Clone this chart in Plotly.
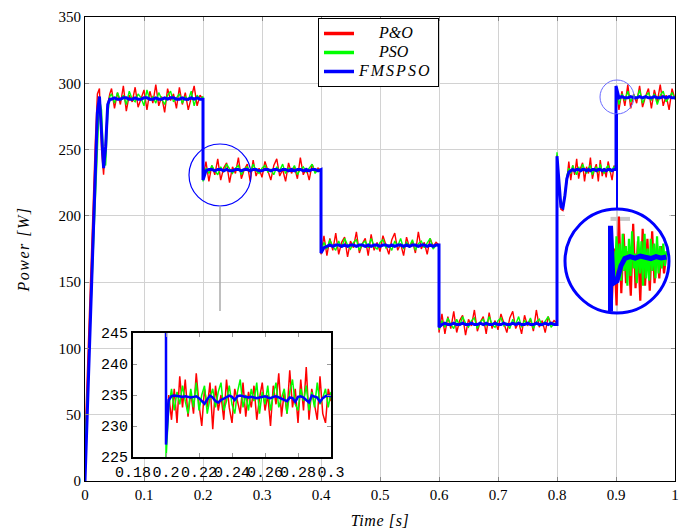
import numpy as np
import plotly.graph_objects as go

# ------------------------------------------------------------------ data
# time segments (start, end) of the simulated record
seg_bounds = [(0.0, 0.042), (0.045, 0.2), (0.2, 0.4), (0.4, 0.6),
              (0.6, 0.8), (0.8, 0.9), (0.9, 1.0)]

# P&O power [W] per segment
po_s0 = [30, 72, 118, 164, 210, 256, 292, 296, 250, 231, 258, 284, 292]
po_s1 = [296, 281, 293, 284, 298, 279, 291, 286, 297, 282, 289, 295, 280, 294, 285, 299,
         283, 290, 278, 296, 287, 292, 281, 297, 284, 293, 280, 289, 298, 283, 291, 288]
po_s2 = [228, 241, 226, 238, 231, 243, 227, 236, 240, 225, 237, 232, 244, 228, 235, 239,
         226, 242, 230, 236, 229, 241, 233, 227, 238, 243, 230, 235, 226, 240, 232, 237,
         228, 244, 231, 236, 227, 239, 233, 236, 234]
po_s3 = [171, 185, 170, 183, 174, 187, 171, 180, 184, 169, 181, 176, 188, 172, 179, 183,
         170, 186, 174, 180, 173, 185, 177, 171, 182, 187, 174, 179, 170, 184, 176, 181,
         172, 188, 175, 180, 171, 183, 177, 180, 178]
po_s4 = [112, 126, 111, 124, 115, 128, 112, 121, 125, 110, 122, 117, 129, 113, 120, 124,
         111, 127, 115, 121, 114, 126, 118, 112, 123, 128, 115, 120, 111, 125, 117, 122,
         113, 129, 116, 121, 112, 124, 118, 121, 119]
po_s5 = [246, 220, 205, 204, 214, 226, 241, 227, 238, 231, 243, 228, 236, 240, 226, 237,
         232, 244, 228, 235, 239, 226, 242, 230, 236, 229, 241, 233, 227, 238, 234]
po_s6 = [297, 280, 294, 283, 299, 281, 292, 285, 298, 282, 290, 296, 281, 295, 286, 299,
         283, 291, 280, 296, 288]

# PSO power [W] per segment
pso_s0 = [25, 55, 95, 135, 175, 215, 258, 288, 280, 243, 238, 276, 290]
pso_s1 = [292, 285, 293, 287, 291, 284, 294, 288, 286, 292, 289, 283, 295, 287, 290, 285,
          293, 288, 284, 291, 294, 286, 289, 292, 285, 290, 287, 294, 283, 291, 288, 290]
pso_s2 = [226, 236, 232, 238, 234, 231, 237, 233, 239, 235, 232, 236, 238, 231, 235, 237,
          233, 239, 234, 232, 236, 238, 233, 235, 231, 237, 234, 239, 232, 236, 234, 238,
          231, 235, 237, 233, 236, 239, 232, 235, 234]
pso_s3 = [173, 180, 175, 182, 177, 174, 181, 176, 183, 178, 175, 180, 182, 174, 179, 181,
          176, 183, 177, 175, 180, 182, 176, 178, 174, 181, 177, 183, 175, 180, 177, 182,
          174, 179, 181, 176, 180, 183, 175, 178, 177]
pso_s4 = [114, 121, 116, 123, 118, 115, 122, 117, 124, 119, 116, 121, 123, 115, 120, 122,
          117, 124, 118, 116, 121, 123, 117, 119, 115, 122, 118, 124, 116, 121, 118, 123,
          115, 120, 122, 117, 121, 124, 116, 119, 118]
pso_s5 = [248, 224, 209, 208, 217, 230, 236, 232, 238, 234, 231, 237, 233, 239, 235, 232,
          236, 238, 231, 235, 237, 233, 239, 234, 232, 236, 238, 233, 235, 237, 234]
pso_s6 = [296, 284, 292, 287, 294, 286, 291, 288, 295, 285, 290, 293, 287, 292, 284, 291,
          294, 286, 290, 293, 288]

# FMSPSO power [W] per segment
fm_s0 = [0, 46, 92, 138, 184, 230, 278, 290, 262, 236, 252, 284, 288]
fm_s1 = [288, 289, 288, 288, 289, 289, 288, 288, 289, 288, 288, 289, 289, 288, 288, 289,
         288, 288, 289, 288, 289, 289, 288, 288, 289, 288, 288, 289, 288, 289, 288, 288]
fm_s2 = [227, 234, 235, 235, 234, 235, 235, 234, 235, 234, 234, 235, 235, 234, 235, 235,
         234, 235, 235, 234, 234, 235, 235, 234, 235, 235, 234, 235, 235, 234, 235, 234,
         235, 235, 234, 235, 234, 235, 235, 234, 235]
fm_s3 = [172, 176, 177, 178, 177, 178, 178, 177, 178, 177, 178, 178, 177, 178, 178, 177,
         178, 177, 178, 178, 177, 178, 178, 177, 178, 177, 178, 178, 177, 178, 177, 178,
         178, 177, 178, 178, 177, 178, 177, 178, 178]
fm_s4 = [116, 118, 119, 118, 118, 119, 118, 118, 119, 118, 118, 119, 118, 118, 119, 118,
         119, 118, 118, 119, 118, 118, 119, 118, 118, 119, 118, 119, 118, 118, 119, 118,
         118, 119, 118, 118, 119, 118, 119, 118, 118]
fm_s5 = [245, 222, 207, 206, 215, 228, 233, 234, 235, 234, 235, 235, 234, 235, 235, 234,
         235, 234, 235, 235, 234, 235, 235, 234, 235, 234, 235, 235, 234, 235, 235]
fm_s6 = [298, 289, 290, 289, 289, 290, 289, 289, 290, 289, 290, 289, 289, 290, 289, 289,
         290, 289, 290, 289, 289]

# inset: 0.2 s .. 0.3 s detail
inset_span = (0.2, 0.3)
inset_po = [227.5, 235.0, 231.0, 236.0, 230.5, 238.0, 233.0, 237.5, 231.5, 235.5, 232.0,
            238.5, 233.5, 230.0, 236.0, 233.0, 237.0, 229.5, 236.5, 232.5, 235.0, 231.0,
            237.5, 233.0, 230.5, 236.0, 234.0, 232.0, 237.0, 231.5, 235.5, 233.0, 236.5,
            231.0, 234.5, 237.0, 232.5, 235.0, 230.0, 236.5, 233.5, 238.5, 231.5, 235.5,
            232.0, 239.0, 233.0, 236.0, 230.5, 237.5, 232.5, 239.5, 231.0, 236.0, 233.5,
            231.0, 238.0, 232.0, 230.5, 236.0, 234.0]
inset_pso = [224.5, 233.0, 236.0, 232.5, 235.5, 233.5, 236.5, 234.0, 232.0, 236.0, 233.0,
             237.0, 232.5, 235.0, 236.5, 232.0, 234.5, 236.0, 233.0, 235.5, 237.0, 232.5,
             234.0, 236.5, 233.5, 232.0, 235.5, 237.5, 233.0, 235.0, 232.5, 236.0, 234.0,
             237.0, 232.0, 235.5, 233.5, 236.5, 232.5, 235.0, 237.0, 233.0, 234.5, 236.0,
             232.0, 235.5, 237.5, 233.5, 232.5, 236.0, 234.0, 236.5, 232.5, 235.5, 233.0,
             237.0, 233.5, 234.5, 236.0, 233.0, 235.5]
inset_fm = [227.0, 234.2, 234.8, 234.9, 234.8, 234.8, 234.7, 234.8, 234.7, 234.6, 234.7,
            234.8, 234.5, 234.1, 233.6, 234.3, 234.9, 234.6, 234.0, 233.8, 234.2, 234.4,
            234.6, 234.9, 234.7, 234.2, 234.8, 234.9, 234.8, 234.7, 234.6, 234.7, 234.6,
            234.5, 234.6, 234.7, 234.8, 234.6, 234.5, 234.7, 234.8, 234.6, 234.4, 234.3,
            234.0, 234.6, 234.5, 233.9, 234.7, 234.8, 234.6, 234.2, 233.8, 234.9, 234.8,
            234.6, 233.9, 234.5, 234.8, 234.9, 234.8]
inset_xticks = [0.18, 0.2, 0.22, 0.24, 0.26, 0.28, 0.3]
inset_xticklabels = ["0.18", "0.2", "0.22", "0.24", "0.26", "0.28", "0.3"]
inset_yticks = [225, 230, 235, 240, 245]

# magnified view around the 0.9 s step
zoom_span = (0.8998, 0.9019)
zoom_po = [283.0, 294.0, 282.5, 300.5, 285.0, 297.0, 287.0, 293.5, 284.5, 299.0, 286.0,
           295.5, 283.5, 298.0, 286.5, 296.0, 285.5, 297.5, 287.0, 295.0, 288.0, 294.5,
           289.0, 293.0]
zoom_pso = [286.0, 293.5, 288.0, 296.5, 289.0, 295.0, 287.5, 297.0, 289.5, 294.5, 286.5,
            296.0, 288.5, 297.5, 290.0, 293.0, 287.0, 296.5, 289.0, 295.5, 286.5, 297.0,
            288.0, 294.0, 287.5, 296.0, 289.5, 295.0, 288.0, 296.5, 289.0, 294.5, 290.0,
            295.0, 290.5, 293.5]
zoom_fm_t = [0.89975, 0.89975, 0.89985, 0.9000, 0.90015, 0.9003, 0.9005, 0.9007, 0.9009,
             0.9011, 0.9013, 0.9015, 0.9017, 0.9019]
zoom_fm = [281.3, 298.6, 287.0, 287.5, 290.5, 292.0, 292.4, 292.1, 292.5, 292.2, 292.0,
           292.4, 292.1, 292.3]

names = ["P&O", "PSO", "FMSPSO"]
colors = ["#ff0000", "#00ff00", "#0000ff"]

# ------------------------------------------------------------------ helpers
def build(segs):
    t, p = [], []
    for (a, b), vals in zip(seg_bounds, segs):
        t.extend(np.linspace(a, b, len(vals)))
        p.extend(vals)
    return np.array(t), np.array(p)

po_t, po = build([po_s0, po_s1, po_s2, po_s3, po_s4, po_s5, po_s6])
pso_t, pso = build([pso_s0, pso_s1, pso_s2, pso_s3, pso_s4, pso_s5, pso_s6])
fm_t, fm = build([fm_s0, fm_s1, fm_s2, fm_s3, fm_s4, fm_s5, fm_s6])

def inset_series(vals, pre):
    t = np.concatenate([[inset_span[0]], np.linspace(inset_span[0], inset_span[1], len(vals))])
    return t, np.concatenate([[pre], vals])

W, H = 686, 529
L, R, T, B = 85, 675, 17, 481
def px_x(px):
    return (px - L) / (R - L)
def px_y(py):
    return (B - py) / (B - T)

serif = "Liberation Serif"
mono = "Liberation Mono"

fig = go.Figure()

# main traces
widths = [1.4, 1.4, 3]
for (t, p), n, c, w in zip([(po_t, po), (pso_t, pso), (fm_t, fm)], names, colors, widths):
    fig.add_trace(go.Scatter(x=t, y=p, mode="lines", line=dict(color=c, width=w),
                             name=n, showlegend=False, xaxis="x", yaxis="y"))

# inset traces
inset_widths = [1.5, 1.5, 2.5]
for vals, pre, c, w in zip([inset_po, inset_pso, inset_fm],
                           [po_s1[-1], pso_s1[-1], fm_s1[-1]], colors, inset_widths):
    t, p = inset_series(vals, pre)
    fig.add_trace(go.Scatter(x=t, y=p, mode="lines", line=dict(color=c, width=w),
                             showlegend=False, xaxis="x2", yaxis="y2"))

# magnified traces
fig.add_trace(go.Scatter(x=np.linspace(*zoom_span, len(zoom_po)), y=zoom_po, mode="lines",
                         line=dict(color=colors[0], width=2.2), showlegend=False,
                         xaxis="x3", yaxis="y3"))
fig.add_trace(go.Scatter(x=np.linspace(*zoom_span, len(zoom_pso)), y=zoom_pso, mode="lines",
                         line=dict(color=colors[1], width=2.2), showlegend=False,
                         xaxis="x3", yaxis="y3"))
fig.add_trace(go.Scatter(x=zoom_fm_t, y=zoom_fm, mode="lines",
                         line=dict(color=colors[2], width=5), showlegend=False,
                         xaxis="x3", yaxis="y3"))

# legend entries (larger italic text inside a compact legend row height)
pads = ["\u00a0" * 5, "\u00a0" * 5, ""]
spacing = ["0px", "0px", "2px"]
for n, c, pad, sp in zip(names, colors, pads, spacing):
    label = ('<span style="font-size:16px;letter-spacing:' + sp + '">' + pad
             + n.replace("&", "&amp;") + "</span>")
    fig.add_trace(go.Scatter(x=[None], y=[None], mode="lines", line=dict(color=c, width=3.5),
                             name=label, showlegend=True, xaxis="x", yaxis="y"))

grid = "#d2d2d2"
shapes = []
# circle around the 0.2 s transition and its leader line
shapes.append(dict(type="circle", xref="paper", yref="paper", x0=px_x(189), x1=px_x(251),
                   y0=px_y(206), y1=px_y(144), line=dict(color="#0000ff", width=1.2),
                   layer="above"))
shapes.append(dict(type="line", xref="paper", yref="paper", x0=px_x(220), x1=px_x(220),
                   y0=px_y(206), y1=px_y(311), line=dict(color="#aaaaaa", width=1.5),
                   layer="above"))
# small circle at 0.9 s and connector
shapes.append(dict(type="circle", xref="paper", yref="paper", x0=px_x(600), x1=px_x(634),
                   y0=px_y(114), y1=px_y(80), line=dict(color="#6a6aff", width=1),
                   layer="above"))
shapes.append(dict(type="line", xref="paper", yref="paper", x0=px_x(617), x1=px_x(617),
                   y0=px_y(114), y1=px_y(210), line=dict(color="#0000ff", width=2),
                   layer="above"))
# magnifier: white disc, magnified grid lines, outline
shapes.append(dict(type="circle", xref="x3", yref="y3", x0=0.898, x1=0.902, y0=281, y1=302,
                   fillcolor="white", line=dict(width=0), layer="below"))
shapes.append(dict(type="line", xref="x3", yref="y3", x0=0.9, x1=0.9, y0=281, y1=302,
                   line=dict(color="#c8c8c8", width=1.5), layer="below"))
shapes.append(dict(type="line", xref="x3", yref="y3", x0=0.89975, x1=0.9005, y0=300, y1=300,
                   line=dict(color="#c8c8c8", width=4), layer="below"))
shapes.append(dict(type="circle", xref="paper", yref="paper", x0=px_x(565), x1=px_x(669),
                   y0=px_y(313), y1=px_y(209), line=dict(color="#0000ff", width=3),
                   layer="above"))

tickfont = dict(family=serif, size=15, color="black")
titlefont = dict(family=serif, size=16, color="black", style="italic")

fig.update_layout(
    width=W, height=H,
    margin=dict(l=L, r=W - R, t=T, b=H - B, autoexpand=False),
    paper_bgcolor="white", plot_bgcolor="white",
    shapes=shapes,
    showlegend=True,
    legend=dict(x=px_x(318), y=px_y(18), xanchor="left", yanchor="top",
                bgcolor="white", bordercolor="black", borderwidth=1,
                font=dict(family=serif, size=12, color="black", style="italic"),
                tracegroupgap=0),
    xaxis=dict(domain=[0, 1], range=[0, 1], dtick=0.1, tick0=0, showgrid=True,
               gridcolor=grid, gridwidth=1.2, zeroline=False, ticks="inside", ticklen=4,
               tickcolor="#888888", showline=True, linecolor="black", linewidth=1.2,
               mirror="ticks", tickfont=tickfont, automargin=False,
               title=dict(text='<span style="letter-spacing:0.6px">Time [s]</span>',
                          font=titlefont, standoff=16)),
    yaxis=dict(domain=[0, 1], range=[0, 350], dtick=50, tick0=0, showgrid=True,
               gridcolor=grid, gridwidth=1.2, zeroline=False, ticks="inside", ticklen=4,
               tickcolor="#888888", showline=True, linecolor="black", linewidth=1.2,
               mirror="ticks", tickfont=tickfont, automargin=False,
               title=dict(text='<span style="letter-spacing:1.5px">Power [W]</span>',
                          font=titlefont, standoff=24)),
    xaxis2=dict(domain=[px_x(133), px_x(331)], anchor="y2", range=[0.18, 0.3],
                tickmode="array", tickvals=inset_xticks, ticktext=inset_xticklabels,
                tickangle=0, automargin=False,
                showgrid=False, zeroline=False, ticks="inside", ticklen=4,
                tickcolor="#999999", showline=True, linecolor="black", linewidth=2,
                mirror="ticks", tickfont=dict(family=mono, size=15, color="black")),
    yaxis2=dict(domain=[px_y(457), px_y(333)], anchor="x2", range=[225, 245],
                tickmode="array", tickvals=inset_yticks, automargin=False,
                showgrid=False, zeroline=False, ticks="inside", ticklen=4,
                tickcolor="#999999", showline=True, linecolor="black", linewidth=2,
                mirror="ticks", tickfont=dict(family=mono, size=15, color="black")),
    xaxis3=dict(domain=[px_x(565), px_x(669)], anchor="y3", range=[0.898, 0.902],
                visible=False, fixedrange=True),
    yaxis3=dict(domain=[px_y(313), px_y(209)], anchor="x3", range=[281, 302],
                visible=False, fixedrange=True),
)

fig.write_html("out.html")
